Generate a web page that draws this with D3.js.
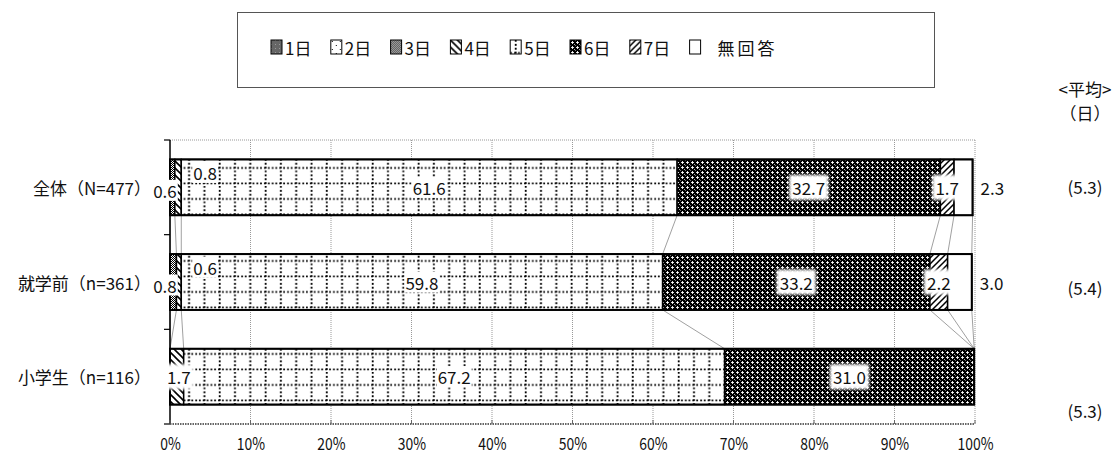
<!DOCTYPE html>
<html>
<head>
<meta charset="utf-8">
<script src="https://cdn.jsdelivr.net/npm/d3@7"></script>
<style>
  body { margin: 0; background: #fff; }
  svg { display: block; }
  text { font-family: "Noto Sans CJK JP", "DejaVu Sans", sans-serif; fill: #111; }
</style>
</head>
<body>
<svg id="chart" width="1116" height="456"></svg>
<script>
// ---- data ----
const categories = ["全体（N=477）", "就学前（n=361）", "小学生（n=116）"];
const seriesNames = ["1日", "2日", "3日", "4日", "5日", "6日", "7日", "無回答"];
const day1 = [0, 0, 0];
const day2 = [0, 0, 0];
const day3 = [0.6, 0.8, 0];
const day4 = [0.8, 0.6, 1.7];
const day5 = [61.6, 59.8, 67.2];
const day6 = [32.7, 33.2, 31.0];
const day7 = [1.7, 2.2, 0];
const noAnswer = [2.3, 3.0, 0];
const averages = ["(5.3)", "(5.4)", "(5.3)"];
const tickValues = [0, 10, 20, 30, 40, 50, 60, 70, 80, 90, 100];
const tickLabels = ["0%", "10%", "20%", "30%", "40%", "50%", "60%", "70%", "80%", "90%", "100%"];

const seriesValues = [day1, day2, day3, day4, day5, day6, day7, noAnswer];

// ---- layout ----
const plot = { left: 170, right: 975, top: 140, bottom: 424 };
const svg = d3.select("#chart");

const x = d3.scaleLinear().domain([0, 100]).range([plot.left, plot.right]);
const y = d3.scaleBand().domain(categories).range([plot.top, plot.bottom]).paddingInner(0.41).paddingOuter(0.205);
const bw = y.bandwidth();

// one row per category, stacked by d3.stack
const rows = categories.map((c, i) => {
  const r = { cat: c };
  seriesNames.forEach((s, j) => { r[s] = seriesValues[j][i]; });
  return r;
});
const stacked = d3.stack().keys(seriesNames)(rows);

// ---- fill patterns ----
const defs = svg.append("defs");
function pattern(id, w, h, draw) {
  const p = defs.append("pattern").attr("id", id).attr("patternUnits", "userSpaceOnUse")
    .attr("width", w).attr("height", h);
  draw(p);
}
function px(p, x0, y0, w, h, c) {
  p.append("rect").attr("x", x0).attr("y", y0).attr("width", w).attr("height", h).attr("fill", c);
}
pattern("p1", 4, 4, p => { px(p, 0, 0, 4, 4, "#666"); px(p, 0, 0, 1, 1, "#999"); });
pattern("p2", 8, 8, p => { px(p, 0, 0, 8, 8, "#fff"); px(p, 1, 1, 1, 1, "#000"); px(p, 5, 5, 1, 1, "#000"); });
pattern("p3", 2, 2, p => { px(p, 0, 0, 2, 2, "#fff"); px(p, 0, 0, 1, 1, "#000"); px(p, 1, 1, 1, 1, "#000"); });
pattern("p4", 7, 7, p => {
  px(p, 0, 0, 7, 7, "#fff");
  p.append("path").attr("d", "M-1,-1L8,8M-1,6L1,8M6,-1L8,1").attr("stroke", "#000").attr("stroke-width", 1.6);
});
pattern("p5", 15.3, 15.5, p => {
  px(p, 0, 0, 15.3, 15.5, "#fff");
  p.append("line").attr("x1", 5.5).attr("x2", 5.5).attr("y1", 0).attr("y2", 15.5)
    .attr("stroke", "#000").attr("stroke-width", 1.8).attr("stroke-dasharray", "1.8,2.1");
  p.append("line").attr("x1", 0).attr("x2", 15.3).attr("y1", 13).attr("y2", 13)
    .attr("stroke", "#000").attr("stroke-width", 1.8).attr("stroke-dasharray", "1.8,2.1");
});
pattern("p6", 5, 5, p => {
  px(p, 0, 0, 5, 5, "#000");
  px(p, 1, 2, 3, 1, "#ddd");
  px(p, 2, 1, 1, 3, "#ddd");
  px(p, 2, 2, 1, 1, "#fff");
  px(p, 4, 4, 1, 1, "#aaa");
  px(p, 0, 0, 1, 1, "#777");
});
pattern("p7", 6, 6, p => {
  px(p, 0, 0, 6, 6, "#fff");
  p.append("path").attr("d", "M-1,7L7,-1M-1,1L1,-1M5,7L7,5").attr("stroke", "#000").attr("stroke-width", 1.5);
});
pattern("p8", 4, 4, p => { px(p, 0, 0, 4, 4, "#fff"); });
const fills = seriesNames.map((s, i) => `url(#p${i + 1})`);

const glow = defs.append("filter").attr("id", "glow").attr("x", "-30%").attr("y", "-30%").attr("width", "160%").attr("height", "160%");
glow.append("feGaussianBlur").attr("stdDeviation", 1.6);

// ---- gridlines & plot frame ----
svg.append("g").selectAll("line").data(tickValues.slice(1)).join("line")
  .attr("x1", d => x(d)).attr("x2", d => x(d))
  .attr("y1", plot.top).attr("y2", plot.bottom)
  .attr("stroke", "#999").attr("stroke-width", 1).attr("stroke-dasharray", "1,1");
svg.append("line").attr("x1", plot.left).attr("x2", plot.right)
  .attr("y1", plot.top).attr("y2", plot.top)
  .attr("stroke", "#999").attr("stroke-width", 1).attr("stroke-dasharray", "1,1");

// ---- series connector lines between bars ----
const connectors = svg.append("g").attr("stroke", "#888").attr("stroke-width", 0.8).attr("fill", "none");
stacked.forEach(layer => {
  for (let i = 0; i < categories.length - 1; i++) {
    connectors.append("line")
      .attr("x1", x(layer[i][1])).attr("y1", y(categories[i]) + bw)
      .attr("x2", x(layer[i + 1][1])).attr("y2", y(categories[i + 1]));
  }
});

// ---- bars ----
const barG = svg.append("g");
stacked.forEach((layer, si) => {
  barG.selectAll(null).data(layer.filter(d => d[1] - d[0] > 0)).join("rect")
    .attr("x", d => x(d[0])).attr("width", d => x(d[1]) - x(d[0]))
    .attr("y", d => y(d.data.cat)).attr("height", bw)
    .attr("fill", fills[si]).attr("stroke", "#000").attr("stroke-width", 1.5);
});
// bar outlines
barG.selectAll(null).data(rows).join("rect")
  .attr("x", x(0))
  .attr("width", d => x(d3.sum(seriesNames, s => d[s])) - x(0))
  .attr("y", d => y(d.cat)).attr("height", bw)
  .attr("fill", "none").attr("stroke", "#000").attr("stroke-width", 2);

// ---- axes ----
svg.append("line").attr("x1", plot.left).attr("x2", plot.left).attr("y1", plot.top).attr("y2", plot.bottom)
  .attr("stroke", "#000").attr("stroke-width", 1.5);
const bandEdges = [plot.top].concat(categories.map(c => y(c) + bw + y.step() * y.paddingInner() / 2).slice(0, -1), [plot.bottom]);
svg.append("g").selectAll("line").data(bandEdges).join("line")
  .attr("x1", plot.left - 6).attr("x2", plot.left).attr("y1", d => d).attr("y2", d => d)
  .attr("stroke", "#000").attr("stroke-width", 1.2);
svg.append("line").attr("x1", plot.left).attr("x2", plot.right).attr("y1", plot.bottom).attr("y2", plot.bottom)
  .attr("stroke", "#333").attr("stroke-width", 1.5).attr("stroke-dasharray", "1.5,1");

const xAxis = d3.axisBottom(x).tickValues(tickValues).tickFormat((d, i) => tickLabels[i]).tickSize(0).tickPadding(14);
const xg = svg.append("g").attr("transform", `translate(0,${plot.bottom})`).call(xAxis);
xg.select(".domain").remove();
xg.attr("font-size", null).attr("font-family", null);
xg.selectAll("text")
  .style("font-size", "17px").style("font-family", "\"Noto Sans CJK JP\", sans-serif")
  .attr("fill", "#111").attr("transform", "scale(0.82,1)");
svg.append("g").selectAll("line").data(tickValues).join("line")
  .attr("x1", d => x(d)).attr("x2", d => x(d)).attr("y1", plot.bottom - 4).attr("y2", plot.bottom)
  .attr("stroke", "#666").attr("stroke-width", 1);

// category labels
svg.append("g").selectAll("text").data(categories).join("text")
  .attr("x", 151).attr("y", d => y(d) + bw / 2)
  .attr("text-anchor", "end").attr("dominant-baseline", "central")
  .attr("font-size", 17).text(d => d);

// ---- value labels ----
const labelG = svg.append("g");
function label(tx, ty, txt, opts) {
  const g = labelG.append("g");
  const t = g.append("text").attr("x", tx).attr("y", ty)
    .attr("text-anchor", opts.anchor || "middle").attr("dominant-baseline", "central")
    .attr("font-size", 17).text(txt);
  if (opts.bg) {
    const bb = t.node().getBBox();
    const pad = opts.bg === "glow" ? 3 : 1;
    g.insert("rect", "text")
      .attr("x", bb.x - pad).attr("y", bb.y - pad + 3)
      .attr("width", bb.width + pad * 2).attr("height", bb.height - 6 + pad * 2)
      .attr("fill", "#fff").attr("filter", opts.bg === "glow" ? "url(#glow)" : null);
  }
}
const fmt = d3.format(".1f");
stacked.forEach((layer, si) => {
  const name = seriesNames[si];
  layer.forEach((d, ri) => {
    const v = d[1] - d[0];
    if (v <= 0) return;
    const cy = y(d.data.cat) + bw / 2;
    const mid = (x(d[0]) + x(d[1])) / 2;
    if (name === "3日") {
      label(x(0) - 5, cy + 3, fmt(v), { bg: "plain" });
    } else if (name === "4日" && v < 1) {
      label(x(d[1]) + 12, y(d.data.cat) + 13, fmt(v), { anchor: "start", bg: "plain" });
    } else if (name === "無回答") {
      label(x(d[1]) + 8, cy, fmt(v), { anchor: "start" });
    } else if (name === "5日") {
      label(mid, cy, fmt(v), { bg: "plain" });
    } else {
      label(mid + (name === "4日" ? 2 : 0), cy, fmt(v), { bg: "glow" });
    }
  });
});

// ---- averages column ----
const avgX = 1085;
const avgOffsets = [-1, 5, 34];
svg.append("text").attr("x", avgX).attr("y", 88).attr("text-anchor", "middle").attr("dominant-baseline", "central")
  .attr("font-size", 17).text("<平均>");
svg.append("text").attr("x", avgX).attr("y", 112).attr("text-anchor", "middle").attr("dominant-baseline", "central")
  .attr("font-size", 17).text("（日）");
svg.append("g").selectAll("text").data(averages).join("text")
  .attr("x", avgX).attr("y", (d, i) => y(categories[i]) + bw / 2 + avgOffsets[i])
  .attr("text-anchor", "middle").attr("dominant-baseline", "central")
  .attr("font-size", 17).text(d => d);

// ---- legend ----
svg.append("rect").attr("x", 237.5).attr("y", 12.5).attr("width", 697).attr("height", 75)
  .attr("fill", "none").attr("stroke", "#555").attr("stroke-width", 1);
const legend = svg.append("g").selectAll("g").data(seriesNames).join("g")
  .attr("transform", (d, i) => `translate(${271 + i * 59.8},40)`);
legend.append("rect").attr("width", 11).attr("height", 14)
  .attr("fill", (d, i) => fills[i]).attr("stroke", "#000").attr("stroke-width", 1);
legend.append("text").attr("x", (d, i) => i === 7 ? 28 : 14).attr("y", 7)
  .attr("dominant-baseline", "central").attr("font-size", 17)
  .attr("letter-spacing", (d, i) => i === 7 ? 3 : 0).text(d => d);
</script>
</body>
</html>
